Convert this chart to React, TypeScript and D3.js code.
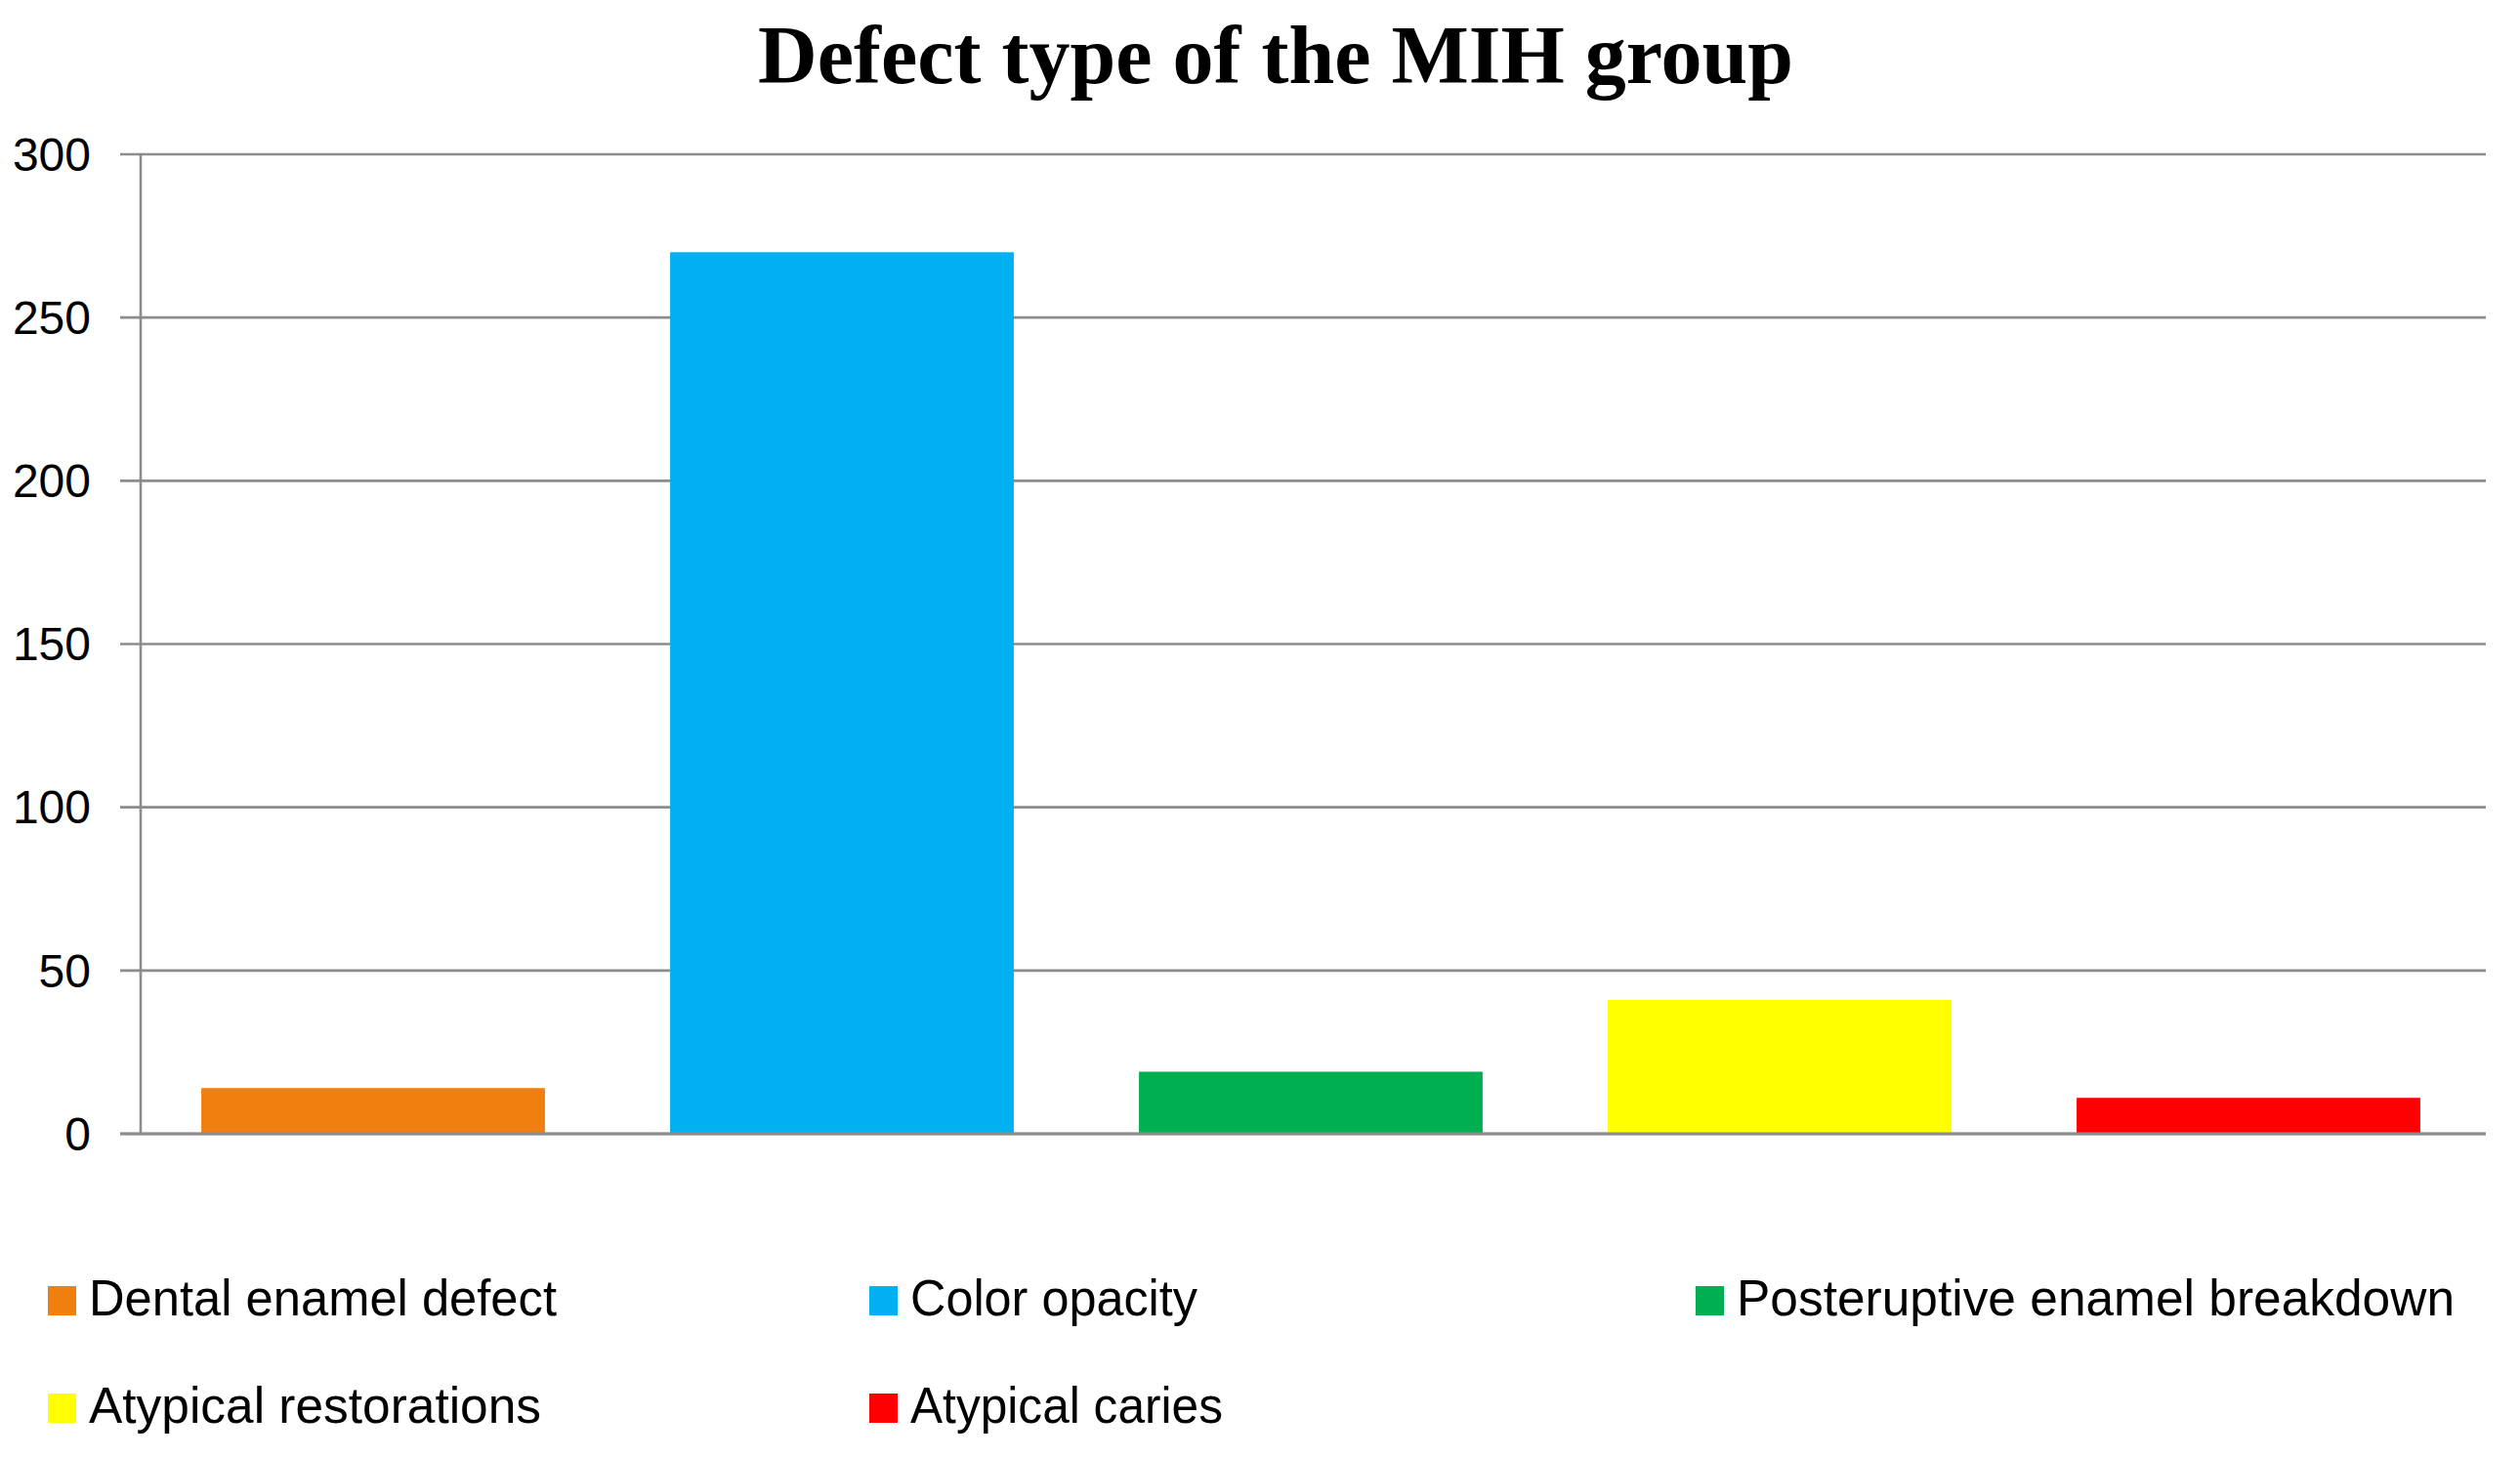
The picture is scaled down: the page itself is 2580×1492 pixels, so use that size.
import React from "react";
import * as d3 from "d3";

const title = "Defect type of the MIH group";
const categories = [
  "Dental enamel defect",
  "Color opacity",
  "Posteruptive enamel breakdown",
  "Atypical restorations",
  "Atypical caries",
];
const values = [14, 270, 19, 41, 11];
const colors = ["#F07F0F", "#00B0F0", "#00B050", "#FFFF00", "#FF0000"];
const yTicks = [0, 50, 100, 150, 200, 250, 300];

const W = 2580;
const H = 1492;
const plot = { left: 145, right: 2545, top: 158, bottom: 1161 };

// legend layout
const legendSlots = [
  { x: 49, y: 1317, w: 479 },
  { x: 890, y: 1317, w: 294 },
  { x: 1736, y: 1317, w: 735 },
  { x: 49, y: 1427, w: 463 },
  { x: 890, y: 1427, w: 320 },
];

export default function App() {
  const x = d3
    .scaleBand<string>()
    .domain(categories)
    .range([plot.left - 3, plot.right - 3])
    .paddingInner(0.267)
    .paddingOuter(0.1335);
  const y = d3.scaleLinear().domain([0, 300]).range([plot.bottom, plot.top]);
  const grid = "#8C8C8C";
  const sans = "'Liberation Sans', Arial, sans-serif";

  return (
    <svg
      width={W}
      height={H}
      style={{ position: "absolute", left: 0, top: 0, background: "#fff" }}
    >
      <rect x={0} y={0} width={W} height={H} fill="#fff" />
      <text
        x={1306}
        y={85}
        textAnchor="middle"
        fontFamily="'Liberation Serif', 'Times New Roman', serif"
        fontWeight="bold"
        fontSize={84}
        fill="#000"
      >
        {title}
      </text>

      {yTicks.map((t) => (
        <g key={t}>
          <line
            x1={123}
            x2={plot.right}
            y1={y(t)}
            y2={y(t)}
            stroke={grid}
            strokeWidth={2.6}
          />
          <text
            x={93}
            y={y(t)}
            dy="0.35em"
            textAnchor="end"
            fontFamily={sans}
            fontSize={48}
            fill="#000"
          >
            {t}
          </text>
        </g>
      ))}
      <line
        x1={plot.left - 1}
        x2={plot.left - 1}
        y1={plot.top}
        y2={plot.bottom}
        stroke={grid}
        strokeWidth={2.6}
      />

      {categories.map((c, i) => (
        <rect
          key={c}
          x={x(c)}
          y={y(values[i])}
          width={x.bandwidth()}
          height={y(0) - y(values[i])}
          fill={colors[i]}
        />
      ))}
      <line
        x1={123}
        x2={plot.right}
        y1={y(0)}
        y2={y(0)}
        stroke={grid}
        strokeWidth={3}
      />

      {categories.map((c, i) => {
        const s = legendSlots[i];
        return (
          <g key={"lg" + c}>
            <rect x={s.x} y={s.y} width={29} height={30} fill={colors[i]} />
            <text
              x={s.x + 42}
              y={s.y + 30}
              fontFamily={sans}
              fontSize={52}
              fill="#000"
              textLength={s.w}
              lengthAdjust="spacingAndGlyphs"
            >
              {c}
            </text>
          </g>
        );
      })}
    </svg>
  );
}
